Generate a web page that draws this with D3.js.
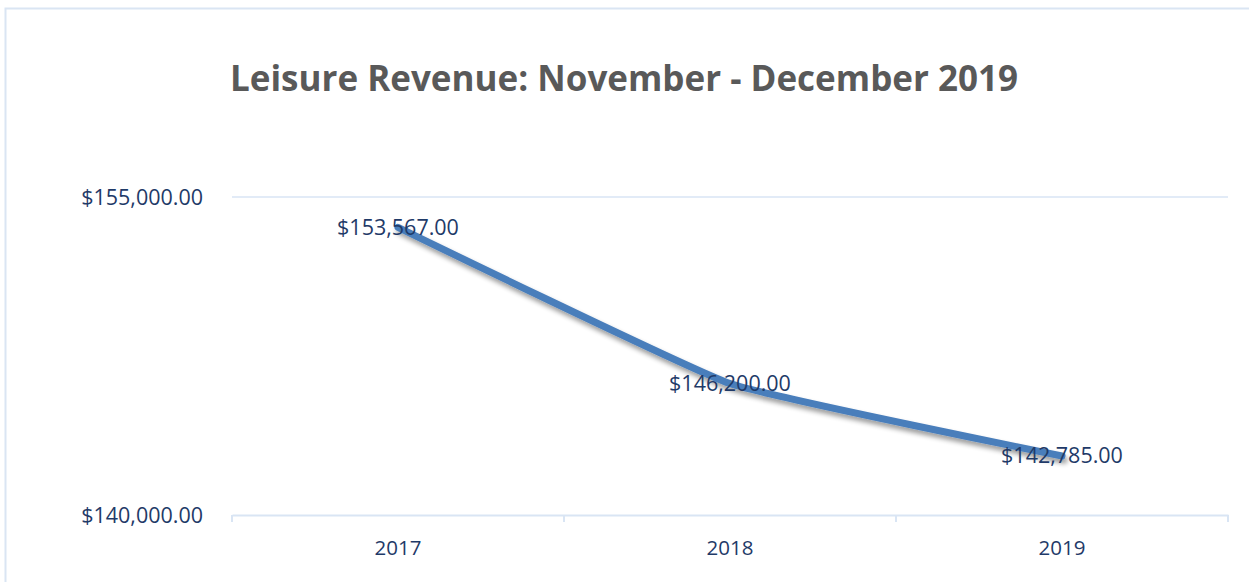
<!DOCTYPE html>
<html>
<head>
<meta charset="utf-8">
<script src="https://cdn.jsdelivr.net/npm/d3@7"></script>
<style>
  body { margin: 0; background: #fff; }
  text { font-family: "Open Sans", "Noto Sans", sans-serif; }
</style>
</head>
<body>
<svg id="chart"></svg>
<script>
const years = ["2017", "2018", "2019"];
const revenue = [153567, 146200, 142785];
const yTicks = [140000, 155000];
const title = "Leisure Revenue: November - December 2019";

const width = 1249, height = 582;
const margin = { top: 197, right: 21, bottom: 67, left: 232 };

const svg = d3.select("#chart")
    .attr("width", width)
    .attr("height", height);

// chart frame, cut off at right and bottom like the screenshot
svg.append("rect")
    .attr("x", 5.5).attr("y", 8.5)
    .attr("width", width + 20).attr("height", height + 20)
    .attr("fill", "none")
    .attr("stroke", "#dae5f3")
    .attr("stroke-width", 2);

const defs = svg.append("defs");
const shadow = defs.append("filter").attr("id", "shadow")
    .attr("x", "-10%").attr("y", "-10%").attr("width", "120%").attr("height", "130%");
shadow.append("feGaussianBlur").attr("in", "SourceAlpha").attr("stdDeviation", 2.5).attr("result", "blur");
shadow.append("feOffset").attr("dx", 2).attr("dy", 4).attr("result", "off");
shadow.append("feComponentTransfer").append("feFuncA").attr("type", "linear").attr("slope", 0.4);
const merge = shadow.append("feMerge");
merge.append("feMergeNode");
merge.append("feMergeNode").attr("in", "SourceGraphic");

const innerW = width - margin.left - margin.right;
const innerH = height - margin.top - margin.bottom;

const x = d3.scaleBand().domain(years).range([0, innerW]);
const y = d3.scaleLinear().domain([140000, 155000]).range([innerH, 0]);

const g = svg.append("g").attr("transform", `translate(${margin.left},${margin.top})`);

svg.append("text")
    .attr("x", 624).attr("y", 91)
    .attr("text-anchor", "middle")
    .attr("fill", "#595959")
    .attr("font-size", 35)
    .attr("font-weight", "bold")
    .text(title);

// gridlines
g.selectAll(".grid")
    .data(yTicks.slice(1))
    .join("line")
    .attr("x1", 0).attr("x2", innerW)
    .attr("y1", d => y(d)).attr("y2", d => y(d))
    .attr("stroke", "#d9e5f4")
    .attr("stroke-width", 1.5);

// y labels
const fmt = d3.format("$,.2f");
g.selectAll(".ylab")
    .data(yTicks)
    .join("text")
    .attr("x", -29)
    .attr("y", d => y(d))
    .attr("dy", "0.35em")
    .attr("text-anchor", "end")
    .attr("fill", "#1f3a68")
    .attr("font-size", 21.5)
    .text(d => fmt(d));

// x axis
const xAxis = g.append("g")
    .attr("transform", `translate(0,${innerH})`)
    .call(d3.axisBottom(x).tickSize(0).tickPadding(25));
xAxis.select(".domain").attr("stroke", "#d9e5f4").attr("stroke-width", 2);
xAxis.selectAll("text")
    .attr("fill", "#1f3a68")
    .attr("font-size", 20.5)
    .attr("font-family", "Open Sans, Noto Sans, sans-serif");

// ticks between categories
const bounds = years.map(d => x(d)).concat([innerW]);
g.selectAll(".tick-mark")
    .data(bounds)
    .join("line")
    .attr("x1", d => d).attr("x2", d => d)
    .attr("y1", innerH).attr("y2", innerH + 7)
    .attr("stroke", "#d9e5f4")
    .attr("stroke-width", 2);

const pts = years.map((d, i) => [x(d) + x.bandwidth() / 2, y(revenue[i])]);

g.append("path")
    .datum(pts)
    .attr("d", d3.line().curve(d3.curveCardinal.tension(0.65)))
    .attr("fill", "none")
    .attr("stroke", "#4a7ebb")
    .attr("stroke-width", 7)
    .attr("stroke-linecap", "round")
    .attr("filter", "url(#shadow)");

g.selectAll(".dlab")
    .data(pts)
    .join("text")
    .attr("x", d => d[0])
    .attr("y", d => d[1])
    .attr("dy", "0.35em")
    .attr("text-anchor", "middle")
    .attr("fill", "#1f3a68")
    .attr("font-size", 21.5)
    .text((d, i) => fmt(revenue[i]));
</script>
</body>
</html>
